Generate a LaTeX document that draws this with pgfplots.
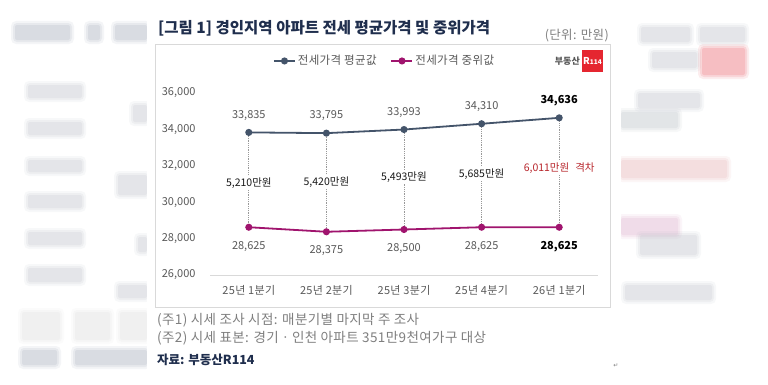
\documentclass[border=0pt]{standalone}
\usepackage{fontspec}
\setmainfont{Noto Sans CJK KR}
\newfontfamily\notewide[LetterSpace=3]{Noto Sans CJK KR}
\newfontfamily\dejavu{DejaVu Sans}
\usepackage{pgfplots}
\pgfplotsset{compat=1.18}
\definecolor{meanc}{HTML}{44546A}
\definecolor{medc}{HTML}{A0146E}
\definecolor{navy}{HTML}{1F2E4D}
\definecolor{tgray}{HTML}{595959}
\definecolor{fgray}{HTML}{7F7F7F}
\definecolor{boxc}{HTML}{D9D9D9}
\definecolor{redt}{HTML}{B8262C}
\definecolor{logored}{HTML}{E52630}
\definecolor{bgray}{HTML}{9AA3B5}
\definecolor{lgray}{HTML}{B8BCC6}
\newcommand\blob[5]{%
 \fill[#5,opacity=0.10,rounded corners=5pt] ({#1-4},{388-#2}) rectangle ({#3+4},{380-#4});
 \fill[#5,opacity=0.14,rounded corners=4pt] ({#1-2},{386-#2}) rectangle ({#3+2},{382-#4});
 \fill[#5,opacity=0.18,rounded corners=2pt] (#1,{384-#2}) rectangle (#3,{384-#4});}
\begin{document}
\begin{tikzpicture}[x=1pt,y=1pt]
\path[use as bounding box, fill=white] (0,0) rectangle (768,384);
% blurred background
\blob{15}{25}{70}{40}{bgray}
\blob{88}{25}{100}{40}{bgray}
\blob{115}{25}{147}{40}{bgray}
\foreach \a/\b in {85/98,122/135,160/172,195/208,232/245,268/282}{\blob{28}{\a}{82}{\b}{lgray}}
\blob{133}{105}{147}{122}{lgray}
\blob{118}{175}{147}{195}{lgray}
\blob{138}{237}{147}{252}{lgray}
\blob{118}{285}{147}{298}{lgray}
\blob{22}{312}{60}{340}{boxc}
\blob{75}{312}{110}{340}{boxc}
\blob{120}{312}{147}{340}{boxc}
\blob{22}{350}{57}{365}{bgray}
\blob{75}{350}{147}{365}{bgray}
\blob{641}{27}{690}{42}{lgray}
\blob{700}{27}{745}{42}{lgray}
\blob{652}{52}{697}{68}{lgray}
\blob{702}{48}{745}{75}{logored!80}
\blob{638}{93}{700}{108}{lgray}
\blob{621}{112}{678}{128}{meanc!40}
\blob{621}{160}{727}{178}{redt!40}
\blob{621}{218}{678}{235}{medc!40}
\blob{640}{235}{697}{255}{lgray}
\blob{625}{285}{712}{300}{lgray}
\fill[white] (147,0) rectangle (621,384);
% chart box
\draw[boxc, line width=1pt] (155,340) rectangle (610,77);
% title and units
\node[anchor=west, inner sep=0pt, font=\fontsize{15.5}{17}\selectfont\bfseries, text=navy] at (158,356) {[그림 1] 경인지역 아파트 전세 평균가격 및 중위가격};
\node[anchor=east, inner sep=0pt, font=\notewide\fontsize{12.5}{14}\selectfont, text=fgray] at (609,348) {(단위: 만원)};
% logo
\node[anchor=east, inner sep=0pt, font=\fontsize{9}{10}\selectfont\bfseries, text=tgray] at (580,323) {부동산};
\fill[logored] (582,334) rectangle (603,312);
\node[text=white, inner sep=0pt, font=\bfseries] at (592.5,323) {{\fontsize{9.5}{10}\selectfont R}{\fontsize{6.5}{7}\selectfont 114}};
\begin{axis}[
  at={(210pt,109pt)}, anchor=south west,
  scale only axis, width=388pt, height=182pt,
  xmin=-0.5, xmax=4.5, ymin=26000, ymax=36000,
  clip=false,
  separate axis lines,
  axis x line*=bottom, axis y line*=left,
  x axis line style={boxc, line width=1pt, -},
  y axis line style={draw=none},
  tick style={draw=none}, major tick length=0pt,
  xtick={0,1,2,3,4},
  xticklabels={25년 1분기, 25년 2분기, 25년 3분기, 25년 4분기, 26년 1분기},
  ytick={26000,28000,30000,32000,34000,36000},
  scaled y ticks=false,
  /pgf/number format/assume math mode=true,
  /pgf/number format/1000 sep={,},
  yticklabel style={anchor=east, xshift=-11pt},
  xticklabel style={yshift=-7pt, font=\notewide\fontsize{11}{13}\selectfont},
  ticklabel style={font=\fontsize{11}{13}\selectfont, text=tgray},
  legend style={at={(0.45,1.176)}, anchor=center, legend columns=2, draw=none, fill=none,
    font=\notewide\fontsize{11.5}{13}\selectfont, text=tgray,
    /tikz/every even column/.append style={column sep=12pt}},
  legend image code/.code={\draw[mark repeat=2,mark phase=2,#1] plot coordinates {(0pt,0pt) (10.5pt,0pt) (21pt,0pt)};},
]
\addplot[densely dotted, color=black!40, line width=0.8pt, forget plot] coordinates {(0,33835) (0,28625)};
\addplot[densely dotted, color=black!40, line width=0.8pt, forget plot] coordinates {(1,33795) (1,28375)};
\addplot[densely dotted, color=black!40, line width=0.8pt, forget plot] coordinates {(2,33993) (2,28500)};
\addplot[densely dotted, color=black!40, line width=0.8pt, forget plot] coordinates {(3,34310) (3,28625)};
\addplot[densely dotted, color=black!40, line width=0.8pt, forget plot] coordinates {(4,34636) (4,28625)};
\addplot[meanc, line width=1.8pt, mark=*, mark size=2.6pt,
  nodes near coords, point meta=explicit symbolic,
  every node near coord/.style={anchor=south, yshift=8pt, font=\fontsize{11}{13}\selectfont, text=tgray}]
  coordinates {(0,33835)[33{,}835] (1,33795)[33{,}795] (2,33993)[33{,}993] (3,34310)[34{,}310] (4,34636)[\textcolor{black}{\bfseries 34{,}636}]};
\addlegendentry{전세가격 평균값}
\addplot[medc, line width=1.8pt, mark=*, mark size=2.6pt,
  nodes near coords, point meta=explicit symbolic,
  every node near coord/.style={anchor=north, yshift=-10pt, font=\fontsize{11}{13}\selectfont, text=tgray}]
  coordinates {(0,28625)[28{,}625] (1,28375)[28{,}375] (2,28500)[28{,}500] (3,28625)[28{,}625] (4,28625)[\textcolor{black}{\bfseries 28{,}625}]};
\addlegendentry{전세가격 중위값}
\node[fill=white, inner sep=1.5pt, font=\fontsize{10.5}{12}\selectfont, text=black!90] at (axis cs:0,31055) {5{,}210만원};
\node[fill=white, inner sep=1.5pt, font=\fontsize{10.5}{12}\selectfont, text=black!90] at (axis cs:1,31110) {5{,}420만원};
\node[fill=white, inner sep=1.5pt, font=\fontsize{10.5}{12}\selectfont, text=black!90] at (axis cs:2,31385) {5{,}493만원};
\node[fill=white, inner sep=1.5pt, font=\fontsize{10.5}{12}\selectfont, text=black!90] at (axis cs:3,31550) {5{,}685만원};
\node[fill=white, inner sep=1.5pt, font=\fontsize{10.5}{12}\selectfont, text=redt] at (axis cs:4,31880) {6{,}011만원\hspace{6pt}격차};
\end{axis}
% footnotes
\node[anchor=west, inner sep=0pt, font=\notewide\fontsize{13.5}{15}\selectfont, text=fgray] at (157,64) {(주1) 시세 조사 시점: 매분기별 마지막 주 조사};
\node[anchor=west, inner sep=0pt, font=\notewide\fontsize{13.5}{15}\selectfont, text=fgray] at (157,46) {(주2) 시세 표본: 경기ㆍ인천 아파트 351만9천여가구 대상};
\node[anchor=west, inner sep=0pt, font=\fontsize{12.5}{14}\selectfont\bfseries, text=navy] at (157,24) {자료: 부동산R114};
\node[inner sep=0pt, font=\dejavu\fontsize{6}{7}\selectfont, text=fgray] at (616,18) {↵};
\end{tikzpicture}
\end{document}
